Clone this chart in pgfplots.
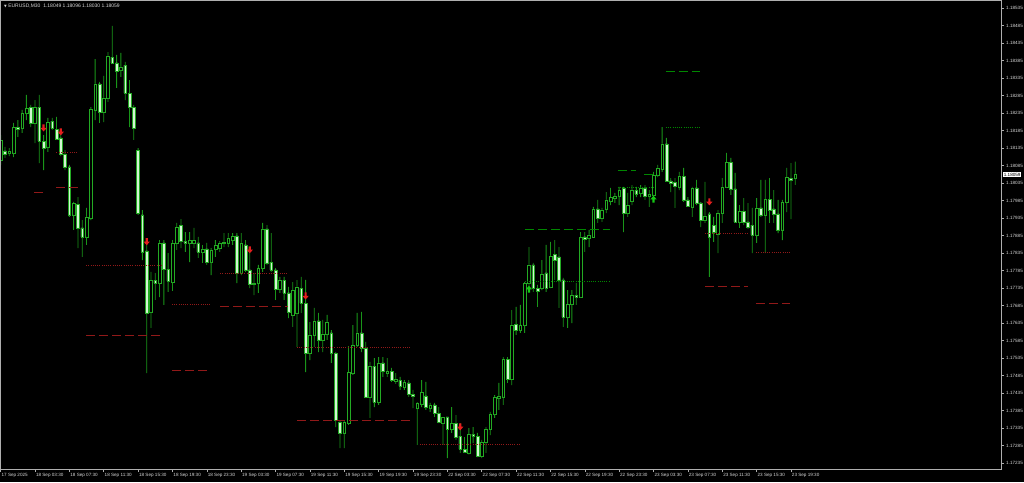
\documentclass[border=0pt]{standalone}
\usepackage{pgfplots}
\pgfplotsset{compat=1.18}
\usepackage{pgfplotstable}
\usepackage{fontspec}
\setmainfont{Liberation Sans}
\newfontfamily\dejavu{DejaVu Sans}

\definecolor{wick}{RGB}{25,150,25}
\definecolor{bodyline}{RGB}{35,170,35}
\definecolor{bearfill}{RGB}{210,245,210}
\definecolor{lvred}{RGB}{145,25,25}
\definecolor{lvgreen}{RGB}{0,135,0}
\definecolor{arrred}{RGB}{230,30,30}
\definecolor{arrgreen}{RGB}{20,200,20}
\definecolor{framec}{RGB}{175,175,175}
\definecolor{labelc}{RGB}{215,215,215}

% signal arrows
\pgfdeclareplotmark{dnarrow}{%
  \pgfpathmoveto{\pgfqpoint{-1.1pt}{3.6pt}}%
  \pgfpathlineto{\pgfqpoint{1.1pt}{3.6pt}}%
  \pgfpathlineto{\pgfqpoint{1.1pt}{0.3pt}}%
  \pgfpathlineto{\pgfqpoint{3.2pt}{0.3pt}}%
  \pgfpathlineto{\pgfqpoint{0pt}{-3.4pt}}%
  \pgfpathlineto{\pgfqpoint{-3.2pt}{0.3pt}}%
  \pgfpathlineto{\pgfqpoint{-1.1pt}{0.3pt}}%
  \pgfpathclose\pgfusepathqfill}
\pgfdeclareplotmark{uparrow}{%
  \pgfpathmoveto{\pgfqpoint{-1.1pt}{-3.6pt}}%
  \pgfpathlineto{\pgfqpoint{1.1pt}{-3.6pt}}%
  \pgfpathlineto{\pgfqpoint{1.1pt}{-0.3pt}}%
  \pgfpathlineto{\pgfqpoint{3.2pt}{-0.3pt}}%
  \pgfpathlineto{\pgfqpoint{0pt}{3.4pt}}%
  \pgfpathlineto{\pgfqpoint{-3.2pt}{-0.3pt}}%
  \pgfpathlineto{\pgfqpoint{-1.1pt}{-0.3pt}}%
  \pgfpathclose\pgfusepathqfill}

% bar index, open, high, low, close (M30, bar 0 = 18 Sep 03:30)
\pgfplotstableread{
i o h l c
-8 1.18101 1.18172 1.18087 1.18158
-7 1.18127 1.18138 1.18107 1.18118
-6 1.18121 1.18135 1.18112 1.18127
-5 1.18121 1.18207 1.18109 1.18195
-4 1.18195 1.18215 1.18167 1.18189
-3 1.18192 1.18244 1.18178 1.18235
-2 1.18235 1.18287 1.18215 1.18249
-1 1.18252 1.18258 1.18195 1.18207
0 1.18207 1.18272 1.18149 1.18252
1 1.18252 1.18287 1.18092 1.18155
2 1.18155 1.18172 1.18072 1.18135
3 1.18138 1.18221 1.18124 1.18209
4 1.18212 1.18221 1.18187 1.18192
5 1.18189 1.18224 1.18158 1.18161
6 1.18164 1.18178 1.18112 1.18118
7 1.18118 1.18129 1.18072 1.18081
8 1.18081 1.18087 1.17938 1.17944
9 1.17944 1.17981 1.17901 1.17978
10 1.17975 1.17995 1.17849 1.17907
11 1.17907 1.17929 1.17824 1.17881
12 1.17881 1.17964 1.17858 1.17938
13 1.17935 1.18252 1.17929 1.18247
14 1.18244 1.18389 1.18215 1.18318
15 1.18318 1.18324 1.18207 1.18238
16 1.18238 1.18341 1.18209 1.18278
17 1.18278 1.18409 1.18267 1.18398
18 1.18395 1.18484 1.18378 1.18378
19 1.18378 1.18401 1.18307 1.18355
20 1.18358 1.18407 1.18338 1.18367
21 1.18372 1.18381 1.18272 1.18292
22 1.18292 1.18329 1.18195 1.18252
23 1.18252 1.18258 1.18158 1.18192
24 1.18129 1.18135 1.17944 1.17949
25 1.17944 1.17958 1.17815 1.17838
26 1.17841 1.17872 1.17492 1.17664
27 1.17667 1.17781 1.17621 1.17758
28 1.17758 1.17778 1.17701 1.17749
29 1.17749 1.17872 1.17709 1.17864
30 1.17864 1.17872 1.17687 1.17789
31 1.17789 1.17835 1.17724 1.17755
32 1.17752 1.17872 1.17727 1.17864
33 1.17864 1.17921 1.17844 1.17909
34 1.17915 1.17932 1.17849 1.17869
35 1.17869 1.17895 1.17838 1.17864
36 1.17864 1.17895 1.17809 1.17872
37 1.17864 1.17907 1.17849 1.17872
38 1.17864 1.17881 1.17821 1.17838
39 1.17838 1.17858 1.17807 1.17847
40 1.17847 1.17864 1.17801 1.17809
41 1.17809 1.17849 1.17772 1.17844
42 1.17847 1.17872 1.17824 1.17858
43 1.17849 1.17869 1.17838 1.17864
44 1.17864 1.17892 1.17852 1.17867
45 1.17864 1.17892 1.17852 1.17878
46 1.17872 1.17892 1.17858 1.17884
47 1.17884 1.17892 1.17749 1.17778
48 1.17778 1.17892 1.17772 1.17864
49 1.17858 1.17872 1.17781 1.17787
50 1.17787 1.17849 1.17735 1.17747
51 1.17747 1.17778 1.17715 1.17749
52 1.17749 1.17801 1.17721 1.17792
53 1.17792 1.17921 1.17781 1.17904
54 1.17904 1.17915 1.17801 1.17807
55 1.17809 1.17892 1.17781 1.17787
56 1.17787 1.17792 1.17701 1.17732
57 1.17732 1.17767 1.17721 1.17758
58 1.17758 1.17767 1.17701 1.17721
59 1.17721 1.17738 1.17649 1.17667
60 1.17658 1.17752 1.17624 1.17729
61 1.17664 1.17758 1.17567 1.17738
62 1.17735 1.17767 1.17664 1.17692
63 1.17692 1.17758 1.17495 1.17549
64 1.17549 1.17638 1.17529 1.17601
65 1.17601 1.17678 1.17567 1.17641
66 1.17641 1.17664 1.17552 1.17587
67 1.17587 1.17644 1.17552 1.17604
68 1.17604 1.17658 1.17587 1.17638
69 1.17607 1.17615 1.17521 1.17549
70 1.17549 1.17552 1.17338 1.17358
71 1.17352 1.17358 1.17278 1.17321
72 1.17321 1.17358 1.17278 1.17352
73 1.17349 1.17569 1.17344 1.17495
74 1.17492 1.17629 1.17487 1.17572
75 1.17572 1.17664 1.17567 1.17607
76 1.17607 1.17667 1.17552 1.17564
77 1.17564 1.17581 1.17421 1.17424
78 1.17424 1.17524 1.17364 1.17512
79 1.17512 1.17535 1.17395 1.17409
80 1.17409 1.17538 1.17401 1.17521
81 1.17521 1.17538 1.17481 1.17498
82 1.17492 1.17535 1.17481 1.17498
83 1.17498 1.17507 1.17467 1.17472
84 1.17469 1.17492 1.17461 1.17475
85 1.17472 1.17481 1.17444 1.17455
86 1.17452 1.17472 1.17444 1.17467
87 1.17464 1.17472 1.17424 1.17432
88 1.17432 1.17444 1.17392 1.17427
89 1.17392 1.17409 1.17287 1.17407
90 1.17404 1.17472 1.17395 1.17438
91 1.17427 1.17467 1.17387 1.17395
92 1.17392 1.17407 1.17381 1.17401
93 1.17401 1.17407 1.17367 1.17378
94 1.17378 1.17395 1.17349 1.17352
95 1.17349 1.17367 1.17287 1.17367
96 1.17367 1.17367 1.17249 1.17332
97 1.17332 1.17395 1.17321 1.17349
98 1.17349 1.17372 1.17301 1.17309
99 1.17312 1.17349 1.17264 1.17275
100 1.17275 1.17309 1.17264 1.17267
101 1.17264 1.17335 1.17260 1.17318
102 1.17318 1.17338 1.17292 1.17312
103 1.17312 1.17321 1.17252 1.17255
104 1.17255 1.17301 1.17249 1.17295
105 1.17295 1.17338 1.17264 1.17332
106 1.17332 1.17381 1.17315 1.17375
107 1.17375 1.17429 1.17364 1.17424
108 1.17421 1.17464 1.17387 1.17427
109 1.17424 1.17538 1.17401 1.17532
110 1.17532 1.17538 1.17464 1.17475
111 1.17475 1.17672 1.17458 1.17629
112 1.17632 1.17681 1.17601 1.17615
113 1.17615 1.17687 1.17607 1.17629
114 1.17629 1.17752 1.17607 1.17749
115 1.17749 1.17852 1.17738 1.17801
116 1.17801 1.17807 1.17724 1.17735
117 1.17735 1.17744 1.17681 1.17727
118 1.17735 1.17815 1.17729 1.17775
119 1.17778 1.17858 1.17724 1.17735
120 1.17738 1.17867 1.17735 1.17827
121 1.17832 1.17872 1.17758 1.17815
122 1.17824 1.17852 1.17678 1.17758
123 1.17758 1.17764 1.17624 1.17652
124 1.17652 1.17729 1.17621 1.17689
125 1.17689 1.17729 1.17635 1.17715
126 1.17715 1.17749 1.17687 1.17709
127 1.17709 1.17895 1.17707 1.17881
128 1.17881 1.17895 1.17838 1.17875
129 1.17878 1.17901 1.17852 1.17887
130 1.17881 1.17967 1.17881 1.17961
131 1.17961 1.17987 1.17921 1.17935
132 1.17935 1.17964 1.17924 1.17958
133 1.17961 1.18009 1.17949 1.17987
134 1.17984 1.18021 1.17972 1.17995
135 1.17992 1.18007 1.17978 1.17998
136 1.17998 1.18024 1.17972 1.18015
137 1.18021 1.18024 1.17895 1.17949
138 1.17949 1.18007 1.17938 1.17972
139 1.17984 1.18029 1.17972 1.18015
140 1.18015 1.18024 1.17995 1.18004
141 1.18007 1.18029 1.17995 1.18021
142 1.18021 1.18029 1.17987 1.17998
143 1.17998 1.18015 1.17967 1.18004
144 1.18001 1.18067 1.17992 1.18058
145 1.18058 1.18087 1.18052 1.18078
146 1.18075 1.18195 1.18067 1.18147
147 1.18147 1.18164 1.18038 1.18041
148 1.18041 1.18049 1.18009 1.18035
149 1.18038 1.18049 1.17964 1.18027
150 1.18024 1.18067 1.18015 1.18055
151 1.18055 1.18078 1.17981 1.17987
152 1.17987 1.17995 1.17967 1.17969
153 1.17967 1.18024 1.17938 1.18021
154 1.18021 1.18044 1.17972 1.17978
155 1.17978 1.17981 1.17909 1.17929
156 1.17929 1.18038 1.17921 1.17941
157 1.17947 1.17952 1.17767 1.17881
158 1.17915 1.17938 1.17867 1.17895
159 1.17889 1.17958 1.17835 1.17949
160 1.17949 1.18049 1.17921 1.18024
161 1.18024 1.18121 1.18021 1.18095
162 1.18095 1.18107 1.18001 1.18018
163 1.18018 1.18064 1.17921 1.17924
164 1.17924 1.17972 1.17907 1.17955
165 1.17955 1.17992 1.17915 1.17924
166 1.17924 1.17978 1.17904 1.17909
167 1.17915 1.17964 1.17835 1.17887
168 1.17887 1.17992 1.17864 1.17964
169 1.17964 1.18044 1.17938 1.17944
170 1.17944 1.18044 1.17835 1.17989
171 1.17989 1.18049 1.17921 1.17958
172 1.17961 1.18015 1.17921 1.17947
173 1.17947 1.17987 1.17892 1.17901
174 1.17901 1.17987 1.17872 1.17981
175 1.17981 1.18078 1.17952 1.18052
176 1.18049 1.18092 1.17932 1.18044
177 1.18049 1.18096 1.18030 1.18059
}\candles

% the hidden candle axis counts prices from \base, so that the stacked
% bars start just below the plot and not at price 0
\def\base{1.17}
\pgfplotsset{
  chartbase/.style={
    scale only axis, width=1001pt, height=469pt,
    at={(0pt,13pt)}, anchor=south west,
    xmin=-8.15, xmax=224.9,
  },
  lvl/.style={line width=0.7pt, mark=none},
  tpdash/.style={lvl, dash pattern=on 9pt off 4pt},
  sldot/.style={lvl, dash pattern=on 1pt off 1.2pt},
}

\begin{document}
\begin{tikzpicture}
\fill[black] (0,0) rectangle (1024pt,482pt);
\useasboundingbox (0,0) rectangle (1024pt,482pt);

% candles: low, lower wick, body, upper wick -- every step stacked upwards
\begin{axis}[chartbase, hide axis, ybar stacked, bar shift=0pt,
  ymin=0.00218, ymax=0.01558]
\addplot[draw=none, fill=none] table[x=i, y expr={\thisrow{l}-\base}] {\candles};
\addplot[draw=none, fill=wick, bar width=0.85pt] table[x=i, y expr={min(\thisrow{o},\thisrow{c})-\thisrow{l}}] {\candles};
\addplot[draw=bodyline, fill=black, line width=0.5pt, bar width=2.7pt] table[x=i, y expr={max(\thisrow{c}-\thisrow{o},0)}] {\candles};
\addplot[draw=bodyline, fill=bearfill, line width=0.5pt, bar width=2.7pt] table[x=i, y expr={max(\thisrow{o}-\thisrow{c},0)}] {\candles};
\addplot[draw=none, fill=wick, bar width=0.85pt] table[x=i, y expr={\thisrow{h}-max(\thisrow{o},\thisrow{c})}] {\candles};
\end{axis}

\begin{axis}[chartbase, ymin=1.17218, ymax=1.18558,
  axis line style={framec, line width=0.7pt},
  tick align=outside, major tick length=3pt,
  tick style={framec, line width=0.6pt},
  ytick pos=right, yticklabel pos=right, xtick pos=bottom,
  tick label style={font=\fontsize{4.6}{5}\selectfont, text=labelc, inner sep=0pt},
  ytick={1.17235,1.17285,1.17335,1.17385,1.17435,1.17485,1.17535,1.17585,1.17635,1.17685,1.17735,1.17785,1.17835,1.17885,1.17935,1.17985,1.18035,1.18085,1.18135,1.18185,1.18235,1.18285,1.18335,1.18385,1.18435,1.18485,1.18535},
  yticklabels={1.17235,1.17285,1.17335,1.17385,1.17435,1.17485,1.17535,1.17585,1.17635,1.17685,1.17735,1.17785,1.17835,1.17885,1.17935,1.17985,1.18035,1.18085,1.18135,1.18185,1.18235,1.18285,1.18335,1.18385,1.18435,1.18485,1.18535},
  yticklabel style={anchor=west, xshift=2pt},
  extra y ticks={1.18059}, extra y tick labels={1.18059},
  extra y tick style={major tick length=0pt, tick label style={fill=white, text=black, inner sep=0.7pt}},
  xtick={-8,0,8,...,176},
  xticklabels={17 Sep 2025,18 Sep 03:30,18 Sep 07:30,18 Sep 11:30,18 Sep 15:30,18 Sep 19:30,18 Sep 23:30,19 Sep 03:30,19 Sep 07:30,19 Sep 11:30,19 Sep 15:30,19 Sep 19:30,19 Sep 23:30,22 Sep 03:30,22 Sep 07:30,22 Sep 11:30,22 Sep 15:30,22 Sep 19:30,22 Sep 23:30,23 Sep 03:30,23 Sep 07:30,23 Sep 11:30,23 Sep 15:30,23 Sep 19:30},
  xticklabel style={anchor=north west, xshift=0.8pt, yshift=-1pt},
]
% sell levels
\addplot[lvred, tpdash] coordinates {(-0.2,1.18009) (2.1,1.18009)};
\addplot[lvred, tpdash] coordinates {(4.9,1.18024) (10,1.18024)};
\addplot[lvred, sldot] coordinates {(5,1.18124) (9.8,1.18124)};
\addplot[lvred, sldot] coordinates {(11.9,1.17801) (29.6,1.17801)};
\addplot[lvred, tpdash] coordinates {(11.9,1.17601) (29.1,1.17601)};
\addplot[lvred, sldot] coordinates {(31.9,1.17687) (40.7,1.17687)};
\addplot[lvred, tpdash] coordinates {(31.9,1.17501) (40.7,1.17501)};
\addplot[lvred, sldot] coordinates {(43.1,1.17778) (58.9,1.17778)};
\addplot[lvred, tpdash] coordinates {(43.1,1.17684) (58.9,1.17684)};
\addplot[lvred, sldot] coordinates {(61,1.17567) (87.3,1.17567)};
\addplot[lvred, tpdash] coordinates {(61,1.17358) (87.3,1.17358)};
\addplot[lvred, sldot] coordinates {(89.6,1.17289) (112.9,1.17289)};
\addplot[lvred, sldot] coordinates {(156,1.17892) (166,1.17892)};
\addplot[lvred, tpdash] coordinates {(156,1.17741) (166,1.17741)};
\addplot[lvred, sldot] coordinates {(167.9,1.17838) (175.8,1.17838)};
\addplot[lvred, tpdash] coordinates {(167.9,1.17692) (175.8,1.17692)};
% buy levels
\addplot[lvgreen, tpdash] coordinates {(114.1,1.17904) (133.9,1.17904)};
\addplot[lvgreen, sldot] coordinates {(114.1,1.17755) (133.9,1.17755)};
\addplot[lvgreen, tpdash] coordinates {(135.7,1.18072) (139.9,1.18072)};
\addplot[lvgreen, sldot] coordinates {(135.7,1.18024) (144.4,1.18024)};
\addplot[lvgreen, tpdash] coordinates {(141.8,1.18061) (144.1,1.18061)};
\addplot[lvgreen, tpdash] coordinates {(146.9,1.18355) (154.8,1.18355)};
\addplot[lvgreen, sldot] coordinates {(146.9,1.18195) (154.8,1.18195)};
% signals
\addplot[only marks, mark=dnarrow, arrred] coordinates {
  (2,1.18192) (6,1.18181) (26,1.17867) (50,1.17844) (63,1.17712) (99,1.17338) (157,1.17981)};
\addplot[only marks, mark=uparrow, arrgreen] coordinates {(115,1.17732) (144,1.17989)};

\node[anchor=north west, inner sep=0pt, text=labelc, font=\fontsize{5}{6}\selectfont]
  at (rel axis cs:0.004,0.992) {{\dejavu\fontsize{3.5}{4}\selectfont ▼}\ EURUSD,M30\ \ 1.18049 1.18096 1.18030 1.18059};
\end{axis}
\end{tikzpicture}
\end{document}
